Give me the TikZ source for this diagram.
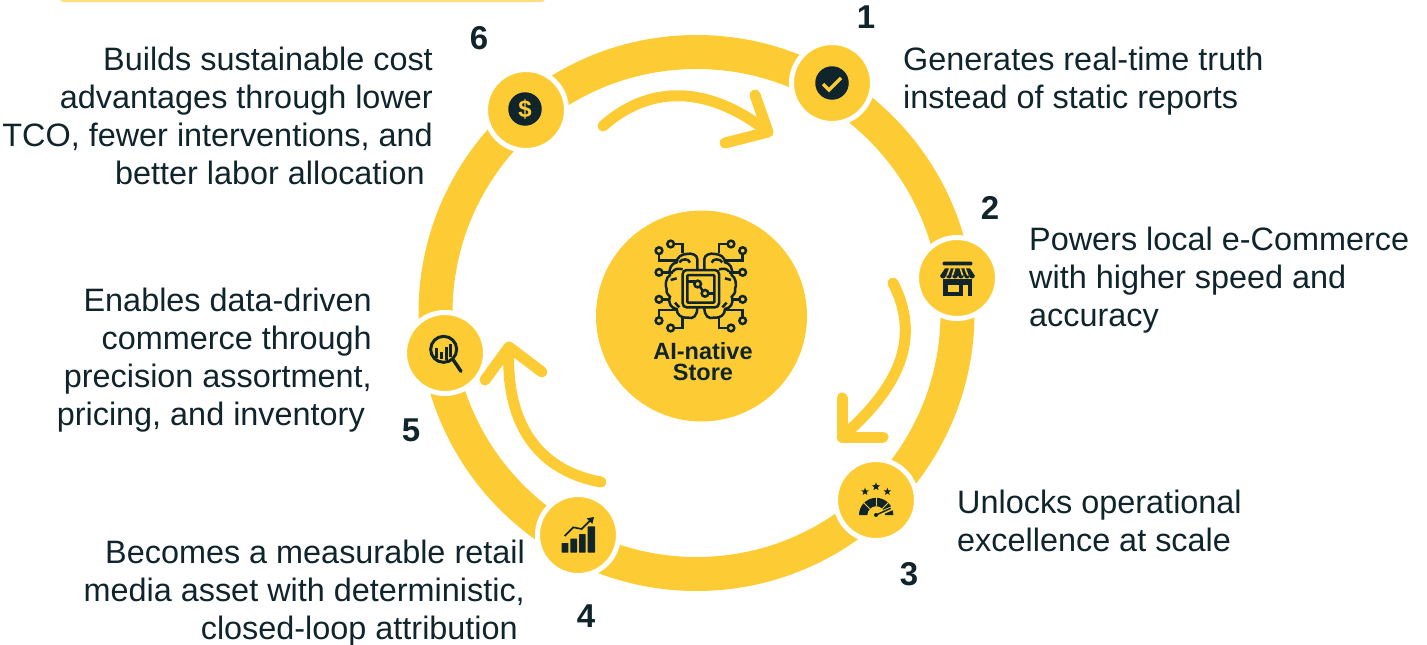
\documentclass[tikz,border=0pt]{standalone}
\usepackage{fontspec}
\setmainfont{Liberation Sans}
\definecolor{ringY}{HTML}{FDCC35}
\definecolor{inkD}{HTML}{10252B}
\definecolor{paleY}{HTML}{FFE080}
\newcommand{\brainhalf}{%
  \draw[brainln] (178,120) -- (178,88) .. controls (178,75) and (195,68) .. (210,72) .. controls (225,72) and (240,82) .. (240,97) .. controls (255,100) and (265,115) .. (260,135) .. controls (272,142) and (276,165) .. (270,178) .. controls (272,190) and (265,195) .. (260,200) .. controls (268,220) and (255,235) .. (240,237) .. controls (240,255) and (225,265) .. (207,263) .. controls (190,268) and (178,258) .. (178,232);
  \draw[brainln] (200,98) .. controls (203,85) and (225,85) .. (232,97);
  \draw[brainln] (222,118) .. controls (235,115) and (245,115) .. (252,125);
  \draw[brainln] (240,145) -- (258,150);
  \draw[brainln] (232,232) -- (245,218);
  \draw[brainln] (248,42) -- (222,42) -- (222,70);
  \draw[brainln] (293,72) -- (293,92) -- (238,92);
  \draw[brainln] (283,127) -- (252,127);
  \draw[brainln] (283,208) -- (262,208);
  \draw[brainln] (293,262) -- (293,240) -- (240,240);
  \draw[brainln] (248,294) -- (222,294) -- (222,262);
  \foreach \px/\py in {258/42,293/62,293/127,293/208,293/272,258/294}
    \draw[brainln] (\px,\py) circle[radius=10];
}
\newcommand{\starat}[3]{\fill[inkD,shift={(#1,#2)}] (-90:#3) -- (-54:0.42*#3) -- (-18:#3) -- (18:0.42*#3) -- (54:#3) -- (90:0.42*#3) -- (126:#3) -- (162:0.42*#3) -- (198:#3) -- (234:0.42*#3) -- cycle;}
\tikzset{
  disc/.style={circle,fill=ringY,draw=white,line width=5pt,minimum size=81pt,inner sep=0pt,outer sep=0pt},
  darkdisc/.style={circle,fill=inkD,minimum size=33.5pt,inner sep=0pt},
  num/.style={text=inkD,font=\fontsize{33}{33}\selectfont\bfseries,inner sep=0pt},
  bodytxt/.style={text=inkD,font=\fontsize{32.4}{38}\selectfont,inner sep=0pt},
  flow/.style={ringY,line width=11pt,line cap=round,line join=round},
  brainln/.style={inkD,line width=2.5pt}
}
\begin{document}
\begin{tikzpicture}[x=1pt,y=-1pt]
\useasboundingbox (0,0) rectangle (1427,645);
\fill[paleY,rounded corners=3pt] (60,-6) rectangle (545,2);
% ring
\node[circle,draw=ringY,line width=34pt,minimum size=522pt,inner sep=0pt,outer sep=0pt] (ring) at (696.5,313) {};
% hub
\node[circle,fill=ringY,minimum size=211pt,inner sep=0pt] (hub) at (701.5,316) {};
% discs
\node[disc] (d1) at (832,83) {};
\node[disc] (d2) at (957,278) {};
\node[disc] (d3) at (876,500) {};
\node[disc] (d4) at (578,535) {};
\node[disc] (d5) at (445,353) {};
\node[disc] (d6) at (526,110) {};
% arrows
\coordinate (a1s) at (603,126);
\coordinate (a1t) at (768,132);
\coordinate (a2s) at (893,283);
\coordinate (a2t) at (842,437);
\coordinate (a3s) at (601,482);
\coordinate (a3t) at (509,347);
\draw[flow] (a1s) .. controls (655,80) and (715,90) .. (a1t);
\draw[flow] (755,95) -- (a1t) -- (725,143);
\draw[flow] (a2s) .. controls (925,345) and (890,395) .. (a2t);
\draw[flow] (842,398) -- (a2t) -- (883,437);
\draw[flow] (a3s) .. controls (535,470) and (505,420) .. (a3t);
\draw[flow] (485,380) -- (a3t) -- (542,372);
% icon 1, 6
\node[darkdisc] (c1) at (832,83) {};
\draw[ringY,line width=3.5pt] (823,84) -- (829,90) -- (841,78);
\node[darkdisc] (c6) at (525,109) {\textcolor{ringY}{\fontsize{24}{24}\selectfont\bfseries\$}};
% icon 2: store
\begin{scope}[shift={(820,230)},scale=1/3]
\fill[inkD,rounded corners=1pt] (368,95) rectangle (457,106);
\fill[inkD] (375,115) -- (450,115) -- (465,138) -- (360,138) -- cycle;
\foreach \t/\b in {390/380,404/396,421/429,435/445}
  \draw[ringY,line width=1.6pt] (\t,115) -- (\b,140);
\fill[inkD] (368,146) rectangle (457,197);
\foreach \cx in {369,387,405,423,441,456}
  \fill[inkD] (\cx-8.5,137) arc[start angle=180,end angle=0,radius=8.5] -- cycle;
\fill[ringY] (383,165) rectangle (416,185);
\fill[ringY] (428,165) rectangle (444,197);
\end{scope}
% icon 3: gauge
\begin{scope}[shift={(820,230)},scale=1/3]
\starat{135}{785}{12}
\starat{168}{770}{13}
\starat{202}{785}{12}
\fill[inkD] (117,855) arc[start angle=180,end angle=360,radius=51.5] -- (195,855) arc[start angle=360,end angle=180,radius=26.5] -- cycle;
\draw[ringY,line width=0.8pt] (131,818) -- (149,836);
\draw[ringY,line width=0.8pt] (168,800) -- (168,829);
\draw[ringY,line width=0.8pt] (205,818) -- (187,836);
\draw[ringY,line width=4pt] (165,857) -- (222,832);
\draw[inkD,line width=1.4pt] (168,855) -- (212,835);
\fill[inkD] (168,855) circle[radius=6];
\end{scope}
% icon 4: chart
\begin{scope}[shift={(400,320)},scale=1/3]
\fill[inkD,rounded corners=0.5pt] (485,669) rectangle (505,698);
\fill[inkD,rounded corners=0.5pt] (511,656) rectangle (531,698);
\fill[inkD,rounded corners=0.5pt] (537,642) rectangle (557,698);
\fill[inkD,rounded corners=0.5pt] (563,619) rectangle (585,698);
\draw[inkD,line width=1.7pt] (494,648) -- (520,622) -- (545,627) -- (572,600);
\fill[inkD] (582,591) -- (560,595) -- (577,612) -- cycle;
\end{scope}
% icon 5: magnifier
\begin{scope}[shift={(400,320)},scale=1/3]
\draw[inkD,line width=3pt] (131,88) circle[radius=39];
\draw[inkD,line width=3.4pt,line cap=round] (160,120) -- (183,154);
\fill[inkD] (105,85) rectangle (114,115);
\fill[inkD] (119,95) rectangle (128,118);
\fill[inkD] (134,82) rectangle (143,119);
\fill[inkD] (148,73) rectangle (157,110);
\end{scope}
% brain icon
\begin{scope}[shift={(645,230)},scale=1/3]
\draw[brainln,rounded corners=4pt] (113,120) rectangle (222,232);
\draw[brainln,rounded corners=1pt] (127,135) rectangle (208,218);
\draw[brainln] (127,155) -- (149,155);
\draw[brainln] (158,162) circle[radius=10];
\draw[brainln] (165,170) -- (173,182);
\draw[brainln] (180,190) circle[radius=10];
\draw[brainln] (190,190) -- (208,190);
\brainhalf
\begin{scope}[shift={(335,0)},xscale=-1]
\brainhalf
\end{scope}
\end{scope}
\node[text=inkD,align=center,inner sep=0pt,font=\fontsize{23.5}{21.5}\selectfont\bfseries] (hubt) at (703,361.5) {AI-native\\Store};
% numbers
\node[num] (n1) at (866,17) {1};
\node[num] (n2) at (990,208) {2};
\node[num] (n3) at (909,574) {3};
\node[num] (n4) at (586,616) {4};
\node[num] (n5) at (411,430) {5};
\node[num] (n6) at (479,38) {6};
% text
\node[bodytxt,align=left,anchor=west] (t1) at (903,81) {Generates real-time truth\\instead of static reports};
\node[bodytxt,align=left,anchor=west] (t2) at (1029,280) {Powers local e-Commerce\\with higher speed and\\accuracy};
\node[bodytxt,align=left,anchor=west] (t3) at (957,520.5) {Unlocks operational\\excellence at scale};
\node[bodytxt,align=right,anchor=east] (t4) at (525,593) {Becomes a measurable retail\\media asset with deterministic,\\closed-loop attribution\hspace*{7pt}};
\node[bodytxt,align=right,anchor=east] (t5) at (372,360) {Enables data-driven\\commerce through\\precision assortment,\\pricing, and inventory\hspace*{7pt}};
\node[bodytxt,align=right,anchor=east] (t6) at (433,115.5) {Builds sustainable cost\\advantages through lower\\TCO, fewer interventions, and\\better labor allocation\hspace*{8pt}};
\end{tikzpicture}
\end{document}
